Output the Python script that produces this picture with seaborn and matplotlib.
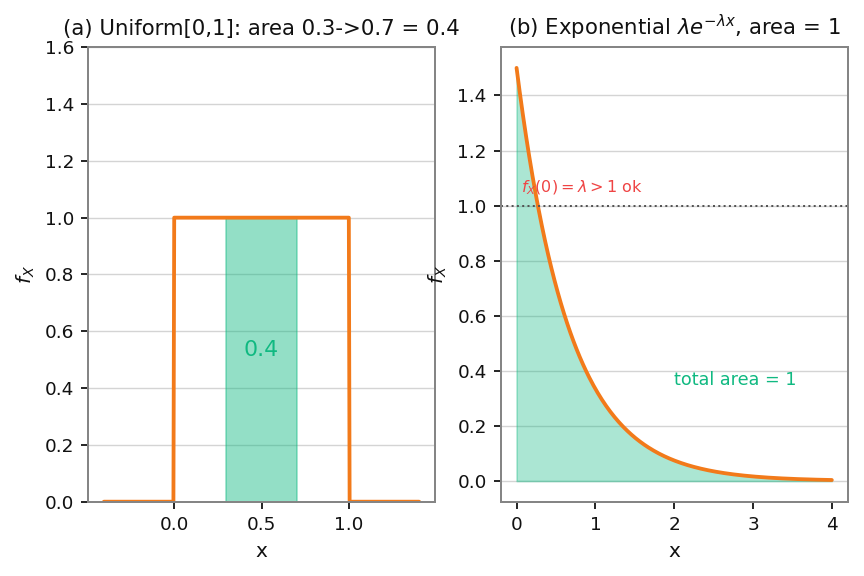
import numpy as np
import pandas as pd
import matplotlib
matplotlib.use("Agg")
import matplotlib.pyplot as plt
import seaborn as sns

# data
uni_x = np.linspace(-0.4, 1.4, 400)
uni_lo, uni_hi = 0.3, 0.7
lam = 1.5
exp_x = np.linspace(0, 4, 300)

ORANGE = "#f27a1a"
GREEN = "#10b981"
RED = "#ef4444"

sns.set_theme(style="ticks", context="notebook", font_scale=0.84,
              rc={"axes.edgecolor": "#858585", "axes.linewidth": 1.0,
                  "grid.color": "#d4d4d4", "grid.linewidth": 0.7,
                  "xtick.major.size": 3.5, "ytick.major.size": 3.5,
                  "xtick.major.width": 0.9, "ytick.major.width": 0.9,
                  "text.color": "#111111", "axes.labelcolor": "#111111",
                  "xtick.color": "#111111", "ytick.color": "#111111",
                  "xtick.labelcolor": "#111111", "ytick.labelcolor": "#111111"})

fig, axes = plt.subplots(1, 2, figsize=(6, 4), dpi=144)
fig.subplots_adjust(left=0.102, right=0.981, top=0.918, bottom=0.129, wspace=0.19)

# (a) uniform
ax = axes[0]
uni = pd.DataFrame({"x": uni_x, "f": ((uni_x >= 0) & (uni_x <= 1)).astype(float)})
ax.fill_between([uni_lo, uni_hi], 0, 1, color=GREEN, alpha=0.45, edgecolor=GREEN, linewidth=0.8)
sns.lineplot(data=uni, x="x", y="f", color=ORANGE, linewidth=1.9, ax=ax)
ax.text(0.5, 0.5, "0.4", color=GREEN, fontsize=11, ha="center", va="bottom")
ax.set_ylim(0, 1.6)
ax.set_xticks([0, 0.5, 1.0])
ax.set_xticklabels(["0.0", "0.5", "1.0"])
ax.yaxis.grid(True)
ax.set_xlabel("x")
ax.set_ylabel("$f_X$")
ax.set_title("(a) Uniform[0,1]: area 0.3->0.7 = 0.4", fontsize=10.6)

# (b) exponential
ax = axes[1]
expo = pd.DataFrame({"x": exp_x, "f": lam * np.exp(-lam * exp_x)})
ax.fill_between(expo["x"], 0, expo["f"], color=GREEN, alpha=0.35, edgecolor=GREEN, linewidth=0.8)
sns.lineplot(data=expo, x="x", y="f", color=ORANGE, linewidth=1.9, ax=ax)
ax.axhline(1.0, color="#555555", linestyle=":", linewidth=1)
ax.text(0.05, 1.05, r"$f_X(0)=\lambda>1$ ok", color=RED, fontsize=8)
ax.text(2.0, 0.35, "total area = 1", color=GREEN, fontsize=8.8)
ax.yaxis.grid(True)
ax.set_xlabel("x")
ax.set_ylabel("$f_X$")
ax.set_title(r"(b) Exponential $\lambda e^{-\lambda x}$, area = 1", fontsize=10.6)

fig.savefig("out.png", dpi=144)
